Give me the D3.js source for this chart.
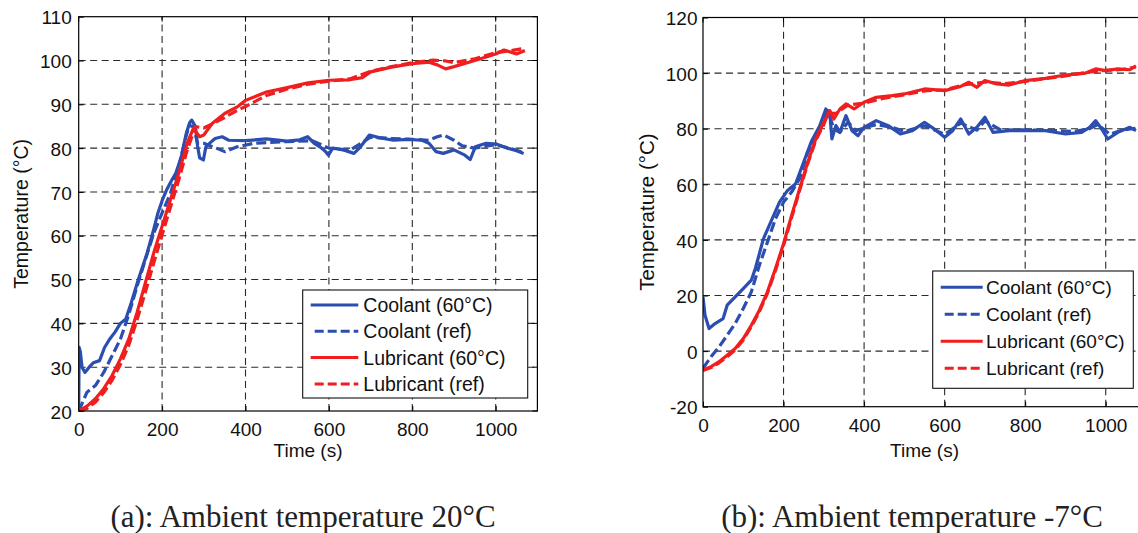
<!DOCTYPE html>
<html><head><meta charset="utf-8">
<script src="https://cdn.jsdelivr.net/npm/d3@7"></script>
<style>
html,body{margin:0;padding:0;background:#fff;overflow:hidden;}
svg{display:block;}
</style></head>
<body>
<svg id="chart" width="1138" height="533"></svg>
<script>
// ---------- DATA ----------
const seriesNames = ["Coolant (60°C)", "Coolant (ref)", "Lubricant (60°C)", "Lubricant (ref)"];
const xTicks = [0, 200, 400, 600, 800, 1000];
const yTicksA = [20, 30, 40, 50, 60, 70, 80, 90, 100, 110];
const yTicksB = [-20, 0, 20, 40, 60, 80, 100, 120];
const captions = ["(a): Ambient temperature 20°C", "(b): Ambient temperature -7°C"];

// (a) ambient 20°C : [time s, temperature °C]
const coolant60A = [[0,20],[1,34.5],[4,33.5],[8,30],[15,28.8],[25,30],[35,31],[50,31.5],[62,34.5],[75,36.5],[87,38],[100,40],[113,41],[126,44.7],[143,50],[164,56],[180,61.5],[190,65.2],[200,68],[211,70.5],[222,72.5],[233,74.3],[246,78],[258,83.4],[266,85.8],[271,86.4],[280,84.9],[285,80.5],[290,77.8],[299,77.3],[305,80.3],[315,81.2],[327,82.2],[344,82.6],[360,81.8],[400,81.7],[450,82.1],[500,81.6],[530,81.9],[549,82.6],[566,81],[580,80.2],[592,79.2],[599,78.4],[609,80],[635,79.6],[660,78.8],[676,80.3],[697,83],[720,82.4],[755,81.8],[790,82],[823,81.8],[840,81.1],[857,79.2],[874,78.8],[900,79.6],[926,78.4],[939,77.4],[951,80.3],[977,81.1],[1003,80.9],[1028,80],[1050,79.4],[1067,78.8]];
const coolantRefA = [[0,20],[20,24.3],[40,25.8],[60,28.8],[80,32.6],[100,36.4],[120,42],[140,48.5],[160,54.6],[180,60.6],[200,65.2],[220,69.7],[240,75.8],[255,81.8],[265,85.2],[275,84.9],[285,81.1],[300,81.1],[330,80],[350,79.2],[380,80.3],[420,81.1],[500,81.5],[560,81.7],[600,80],[650,79.5],[700,82.5],[750,82.2],[800,82],[840,81.8],[860,82.6],[875,83],[900,81.8],[920,80.5],[950,80],[1000,80.8],[1040,79.8],[1067,79]];
const lub60A = [[0,20],[20,21.1],[40,22.8],[60,25.1],[80,28.1],[100,31.9],[120,36.4],[140,42.5],[160,49.3],[180,56.1],[200,62.2],[220,68.2],[240,74.3],[260,81.1],[275,84.5],[290,82.6],[300,83],[320,85.6],[350,87.9],[380,89.4],[400,90.9],[450,92.8],[500,93.8],[550,94.9],[600,95.5],[650,95.6],[680,96.1],[700,97.4],[750,98.5],[800,99.3],[840,99.6],[860,99],[880,98.1],[900,98.6],[950,100],[1000,101.5],[1020,102.4],[1050,101.5],[1070,102.3]];
const lubRefA = [[0,20],[20,20.6],[40,22],[60,24.2],[80,27],[100,30.6],[120,35],[140,40.8],[160,47.2],[180,53.8],[200,60.2],[220,66.5],[240,72.8],[260,79.5],[280,84.9],[300,84.6],[320,85.5],[350,87],[380,88.6],[400,89.5],[450,92],[500,93.5],[550,94.6],[600,95.3],[650,95.8],[700,97.5],[750,98.6],[800,99.5],[850,100.1],[880,99.9],[900,99.5],[950,100.4],[1000,101.8],[1040,102.3],[1070,102.8]];

// (b) ambient -7°C
const coolant60B = [[0,19.5],[5,12.9],[15,8.1],[30,9.9],[50,11.7],[60,16.5],[80,19.5],[100,22.5],[120,25.5],[130,29.7],[150,40.4],[170,47],[190,53.6],[210,57.8],[230,60.2],[250,68],[270,75.7],[290,81.1],[305,87.1],[315,85.3],[320,76.3],[330,81.1],[340,78.7],[355,84.7],[370,79.3],[385,77.5],[400,80.5],[430,82.9],[460,81.1],[490,78.1],[520,79.3],[550,82.3],[580,79.3],[600,76.9],[620,79.3],[640,83.5],[660,78.1],[680,80.5],[700,84.1],[720,78.7],[760,79.3],[800,79.3],[850,79.3],[900,78.1],[940,78.7],[960,80.5],[975,82.9],[990,79.9],[1005,76.3],[1030,78.7],[1060,80.5],[1075,79.3]];
const coolantRefB = [[0,-6.2],[20,-2],[40,1.5],[60,5.7],[80,9.9],[100,15.3],[120,21.3],[140,30.9],[160,39.2],[180,47.6],[200,53.6],[220,57.2],[240,62],[260,71.5],[280,77.5],[300,83.5],[310,86.5],[325,79.9],[340,78.7],[360,82.3],[380,79.3],[400,80.3],[430,81.5],[470,80.5],[500,79],[550,81],[600,78],[640,82],[680,79.5],[700,82.8],[740,79.5],[800,79.6],[860,79.4],[920,79],[960,80],[980,81.5],[1010,78],[1040,79.5],[1075,80.2]];
const lub60B = [[0,-6.8],[20,-5.6],[40,-3.8],[60,-1.5],[80,0.9],[100,4.5],[120,9.3],[140,14.7],[160,21.3],[180,29.7],[200,38.6],[220,48.8],[240,58.4],[260,67.9],[280,76.3],[300,82.3],[315,86.5],[325,83.5],[340,87.1],[355,88.9],[375,87.1],[400,89.5],[430,91.3],[470,91.9],[500,92.5],[550,94.3],[600,93.7],[640,95.2],[660,96.7],[680,94.9],[700,97.3],[730,96.1],[760,95.7],[800,97.3],[850,98.1],[900,99.3],[950,100],[975,101.5],[1000,100.9],[1030,101.5],[1060,101.2],[1075,102.6]];
const lubRefB = [[0,-7],[20,-5.9],[40,-4.2],[60,-2],[80,0.4],[100,4],[120,8.8],[140,14.2],[160,20.8],[180,29],[200,38],[220,48],[240,57.8],[260,67.4],[280,75.8],[300,81.5],[310,85.5],[330,85.5],[360,88.5],[400,89.2],[450,91],[500,92.2],[550,93.6],[600,94],[650,95.8],[700,96.8],[750,96.2],[800,97],[850,98],[900,99],[950,100.2],[1000,101],[1040,101.3],[1075,102.2]];

// ---------- STYLE ----------
const BLUE = "#2b4eb0", RED = "#f01e1e";
const seriesStyles = [
  {color: BLUE, dash: null},
  {color: BLUE, dash: "10,4"},
  {color: RED, dash: null},
  {color: RED, dash: "10,4"}
];

const svg = d3.select("#chart");
const FONT = "'Liberation Sans', Arial, Helvetica, sans-serif";
const fmt = d => String(d);

function panel(cfg) {
  const x = d3.scaleLinear().domain([0, 1100]).range(cfg.xr);
  const y = d3.scaleLinear().domain(cfg.ydom).range(cfg.yr);
  const g = svg.append("g");
  const clipId = "clip" + cfg.id;
  svg.append("defs").append("clipPath").attr("id", clipId)
    .append("rect").attr("x", cfg.xr[0]).attr("y", cfg.yr[1])
    .attr("width", cfg.xr[1] - cfg.xr[0]).attr("height", cfg.yr[0] - cfg.yr[1]);

  // grid
  g.append("g").selectAll("line").data(xTicks.filter(d => d > 0)).join("line")
    .attr("x1", d => x(d)).attr("x2", d => x(d)).attr("y1", cfg.yr[0]).attr("y2", cfg.yr[1])
    .attr("stroke", "#2a2a2a").attr("stroke-width", 1.1).attr("stroke-dasharray", "7,4.5");
  g.append("g").selectAll("line").data(cfg.yticks.slice(1, -1)).join("line")
    .attr("x1", cfg.xr[0]).attr("x2", cfg.xr[1]).attr("y1", d => y(d)).attr("y2", d => y(d))
    .attr("stroke", "#2a2a2a").attr("stroke-width", 1.1).attr("stroke-dasharray", "7,4.5");

  // axes via d3 axis
  const xAxis = d3.axisBottom(x).tickValues(xTicks).tickSize(-5).tickPadding(12).tickFormat(fmt);
  const gx = g.append("g").attr("transform", `translate(0,${cfg.yr[0]})`).call(xAxis);
  gx.select(".domain").remove();
  gx.selectAll("line").attr("stroke", "#000");
  gx.selectAll("text").attr("font-family", FONT).attr("font-size", cfg.tickFs).attr("fill", "#111");
  const yAxis = d3.axisLeft(y).tickValues(cfg.yticks).tickSize(-5).tickPadding(cfg.yPad).tickFormat(fmt);
  const gy = g.append("g").attr("transform", `translate(${cfg.xr[0]},0)`).call(yAxis);
  gy.select(".domain").remove();
  gy.selectAll("line").attr("stroke", "#000");
  gy.selectAll("text").attr("font-family", FONT).attr("font-size", cfg.tickFs).attr("fill", "#111").attr("dy", "0.38em");
  // top / right ticks
  g.append("g").selectAll("line").data(xTicks).join("line")
    .attr("x1", d => x(d)).attr("x2", d => x(d)).attr("y1", cfg.yr[1]).attr("y2", cfg.yr[1] + 5).attr("stroke", "#000");
  g.append("g").selectAll("line").data(cfg.yticks).join("line")
    .attr("x1", cfg.xr[1]).attr("x2", cfg.xr[1] - 5).attr("y1", d => y(d)).attr("y2", d => y(d)).attr("stroke", "#000");

  // data lines
  const line = d3.line().x(d => x(d[0])).y(d => y(d[1]));
  const lg = g.append("g").attr("clip-path", `url(#${clipId})`);
  cfg.series.forEach((s, i) => {
    lg.append("path").datum(s).attr("d", line).attr("fill", "none")
      .attr("stroke", seriesStyles[i].color).attr("stroke-width", 3.2)
      .attr("stroke-linejoin", "round")
      .attr("stroke-dasharray", seriesStyles[i].dash);
  });

  // frame
  g.append("rect").attr("x", cfg.xr[0]).attr("y", cfg.yr[1])
    .attr("width", cfg.xr[1] - cfg.xr[0]).attr("height", cfg.yr[0] - cfg.yr[1])
    .attr("fill", "none").attr("stroke", "#000").attr("stroke-width", 1.2);

  // axis titles
  g.append("text").attr("x", (cfg.xr[0] + cfg.xr[1]) / 2).attr("y", cfg.xTitleY)
    .attr("text-anchor", "middle").attr("font-family", FONT).attr("font-size", cfg.titleFs)
    .attr("fill", "#111").text("Time (s)");
  g.append("text").attr("transform", `translate(${cfg.yTitleX},${(cfg.yr[0] + cfg.yr[1]) / 2}) rotate(-90)`)
    .attr("text-anchor", "middle").attr("font-family", FONT).attr("font-size", cfg.yTitleFs)
    .attr("fill", "#111").text("Temperature (°C)");

  // legend
  const L = cfg.legend;
  const lgd = g.append("g");
  lgd.append("rect").attr("x", L.x).attr("y", L.y).attr("width", L.w).attr("height", L.h)
    .attr("fill", "#fff").attr("stroke", "#111").attr("stroke-width", 1.1);
  seriesNames.forEach((n, i) => {
    const yy = L.y + L.first + i * L.step;
    const st = seriesStyles[i];
    lgd.append("line").attr("x1", st.dash ? L.lx0 + 4 : L.lx0).attr("x2", L.lx1).attr("y1", yy).attr("y2", yy)
      .attr("stroke", st.color).attr("stroke-width", 3).attr("stroke-dasharray", st.dash ? "9,4" : null);
    lgd.append("text").attr("x", L.tx).attr("y", yy).attr("dy", "0.36em")
      .attr("font-family", FONT).attr("font-size", L.fs).attr("fill", "#111").text(n);
  });
}

panel({
  id: "A", xr: [78.7, 537.4], ydom: [20, 110], yr: [411, 16.7], yticks: yTicksA,
  series: [coolant60A, coolantRefA, lub60A, lubRefA],
  tickFs: 19, yPad: 7, titleFs: 19, yTitleFs: 19.5, xTitleY: 457, yTitleX: 28,
  legend: {x: 302.7, y: 290, w: 225, h: 108, first: 15, step: 26.3, lx0: 310.7, lx1: 358.3, tx: 363.3, fs: 19.5}
});
panel({
  id: "B", xr: [703, 1146], ydom: [-20, 120], yr: [406.7, 17.5], yticks: yTicksB,
  series: [coolant60B, coolantRefB, lub60B, lubRefB],
  tickFs: 19, yPad: 5.5, titleFs: 19, yTitleFs: 20.5, xTitleY: 457, yTitleX: 654,
  legend: {x: 932.7, y: 271, w: 200.6, h: 117.3, first: 16.3, step: 27, lx0: 940.7, lx1: 982.7, tx: 986, fs: 19}
});

// captions
svg.selectAll("text.cap").data(captions).join("text").attr("class", "cap")
  .attr("x", (d, i) => i === 0 ? 303 : 912).attr("y", 526.5)
  .attr("text-anchor", "middle")
  .attr("font-family", "'Liberation Serif', 'Times New Roman', serif")
  .attr("font-size", 31).attr("fill", "#222").text(d => d);
</script>
</body></html>
